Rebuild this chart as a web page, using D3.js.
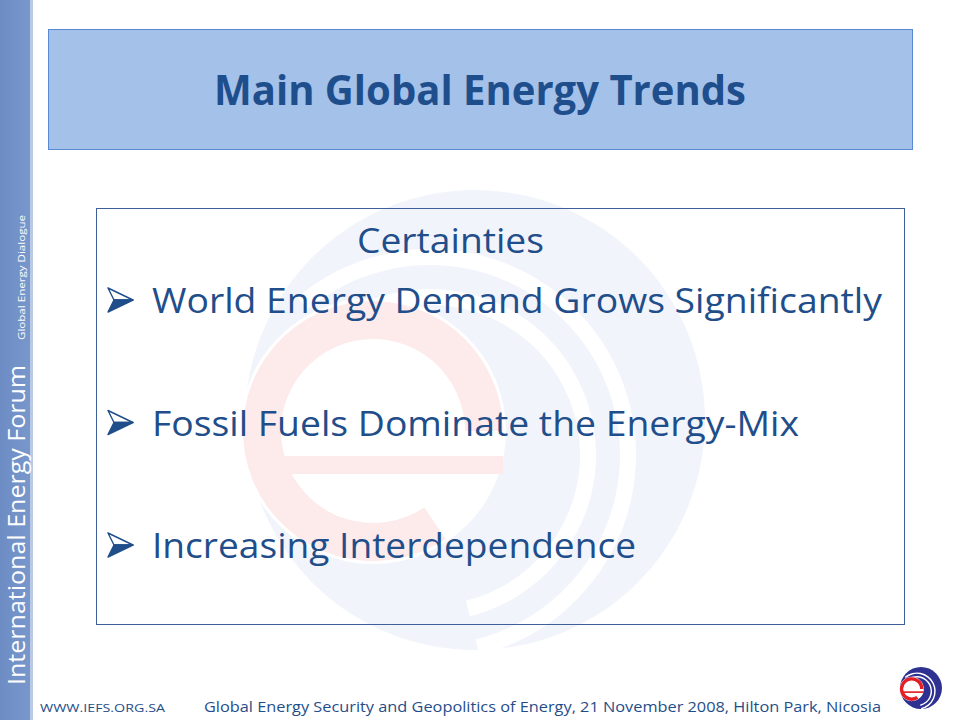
<!DOCTYPE html>
<html>
<head>
<meta charset="utf-8">
<title>Main Global Energy Trends</title>
<script src="https://d3js.org/d3.v7.min.js"></script>
<style>
  body { margin: 0; background: #fff; }
  svg { display: block; font-family: "Open Sans", "Noto Sans", sans-serif; }
</style>
</head>
<body>
<svg width="960" height="720"></svg>
<script>
// slide content
const title = "Main Global Energy Trends";
const heading = "Certainties";
const bullets = [
  "World Energy Demand Grows Significantly",
  "Fossil Fuels Dominate the Energy-Mix",
  "Increasing Interdependence"
];
const bulletWidths = [730, 647, 484];   // measured text widths
const sideTexts = ["International Energy Forum", "Global Energy Dialogue"];
const footerUrl = "WWW.IEFS.ORG.SA";
const footerText = "Global Energy Security and Geopolitics of Energy, 21 November 2008, Hilton Park, Nicosia";

const svg = d3.select("svg");
const textBlue = "#1f4e8a";

// draws the forum logo (blue disc, white stripes, red "e")
function drawLogo(g, r, blue, red) {
  const k = r / 230;
  g.append("circle").attr("r", r).attr("fill", blue);
  [150, 190].forEach(rr => {
    g.append("path")
      .attr("d", d3.arc()({innerRadius: rr * k, outerRadius: (rr + 16) * k, startAngle: -0.7, endAngle: 2.9}))
      .attr("transform", `translate(${-45 * k},${35 * k})`)
      .attr("fill", "#fff");
  });
  g.append("circle").attr("cx", -102 * k).attr("cy", 11 * k).attr("r", 133 * k).attr("fill", "#fff");
  g.append("path")
    .attr("d", d3.arc()({innerRadius: 92 * k, outerRadius: 130 * k, startAngle: 2.55, endAngle: 2 * Math.PI + Math.PI / 2}))
    .attr("transform", `translate(${-102 * k},${11 * k})`)
    .attr("fill", red);
  g.append("rect")
    .attr("x", -195 * k).attr("y", 36 * k).attr("width", 223 * k).attr("height", 18 * k)
    .attr("fill", red);
}

// faint background logo
drawLogo(svg.append("g").attr("transform", "translate(475,420)"), 230, "#f2f4fc", "#fdeaeb");

// left side bar
const grad = svg.append("defs").append("linearGradient").attr("id", "side")
  .attr("x1", 0).attr("x2", 1).attr("y1", 0).attr("y2", 0);
grad.append("stop").attr("offset", "0%").attr("stop-color", "#6d8cc4");
grad.append("stop").attr("offset", "100%").attr("stop-color", "#7898cc");
svg.append("rect").attr("x", 0).attr("y", 0).attr("width", 31).attr("height", 720).attr("fill", "url(#side)");
svg.append("rect").attr("x", 30).attr("y", 0).attr("width", 3).attr("height", 720).attr("fill", "#b9c9e6");

svg.append("text")
  .attr("transform", "translate(25,685) rotate(-90)")
  .attr("fill", "#fff").attr("font-size", 23)
  .attr("textLength", 320).attr("lengthAdjust", "spacingAndGlyphs")
  .text(sideTexts[0]);
svg.append("text")
  .attr("transform", "translate(25,340) rotate(-90)")
  .attr("fill", "#fff").attr("font-size", 9.5)
  .attr("textLength", 125).attr("lengthAdjust", "spacingAndGlyphs")
  .text(sideTexts[1]);

// title box
svg.append("rect")
  .attr("x", 48.5).attr("y", 29.5).attr("width", 864).attr("height", 120)
  .attr("fill", "#a3c1e9").attr("stroke", "#5a89d4").attr("stroke-width", 1);
svg.append("text")
  .attr("x", 214).attr("y", 105)
  .attr("fill", "#1f4e8c").attr("font-size", 42).attr("font-weight", "bold")
  .attr("textLength", 532).attr("lengthAdjust", "spacingAndGlyphs")
  .text(title);

// content box
svg.append("rect")
  .attr("x", 96.5).attr("y", 208.5).attr("width", 808).attr("height", 416)
  .attr("fill", "none").attr("stroke", "#3f5f9b").attr("stroke-width", 1);

svg.append("text")
  .attr("x", 357).attr("y", 253)
  .attr("fill", textBlue).attr("font-size", 35)
  .attr("textLength", 187).attr("lengthAdjust", "spacingAndGlyphs")
  .text(heading);

const y = d3.scalePoint().domain(bullets).range([313, 558]);

const rows = svg.selectAll("g.bullet")
  .data(bullets)
  .enter().append("g")
  .attr("class", "bullet")
  .attr("transform", d => `translate(0,${y(d)})`);

// arrowhead bullet
rows.append("path")
  .attr("d", "M108,-25 L133,-13 L114,-13 Z")
  .attr("fill", "#fff").attr("stroke", textBlue).attr("stroke-width", 1.4).attr("stroke-linejoin", "round");
rows.append("path")
  .attr("d", "M114,-13 L133,-13 L108,-1 Z")
  .attr("fill", textBlue).attr("stroke", textBlue).attr("stroke-width", 1.4).attr("stroke-linejoin", "round");

rows.append("text")
  .attr("x", 152).attr("y", 0)
  .attr("fill", textBlue).attr("font-size", 35)
  .attr("textLength", (d, i) => bulletWidths[i]).attr("lengthAdjust", "spacingAndGlyphs")
  .text(d => d);

// footer
svg.append("text")
  .attr("x", 40).attr("y", 712)
  .attr("fill", textBlue).attr("font-size", 11.5)
  .attr("textLength", 125).attr("lengthAdjust", "spacingAndGlyphs")
  .text(footerUrl);
svg.append("text")
  .attr("x", 204).attr("y", 712)
  .attr("fill", textBlue).attr("font-size", 15)
  .attr("textLength", 677).attr("lengthAdjust", "spacingAndGlyphs")
  .text(footerText);

// small logo, bottom right
drawLogo(svg.append("g").attr("transform", "translate(921,688)"), 21, "#2e3192", "#e31e24");
</script>
</body>
</html>
